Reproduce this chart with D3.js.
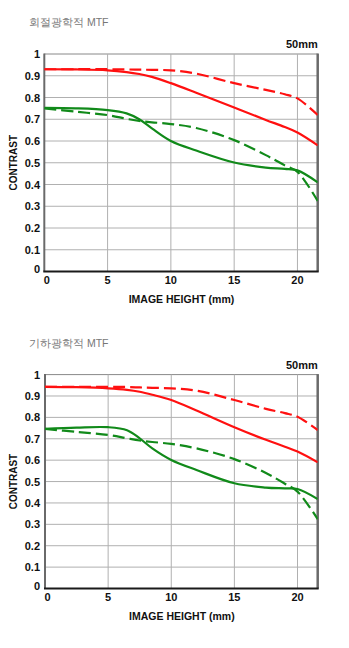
<!DOCTYPE html>
<html>
<head>
<meta charset="utf-8">
<script src="https://cdn.jsdelivr.net/npm/d3@7"></script>
<style>
  html, body { margin: 0; padding: 0; background: #fff; }
  svg { display: block; }
  text { font-family: "Liberation Sans", Arial, sans-serif; }
</style>
</head>
<body>
<script>
// Image height sample positions (mm)
const heights = [0, 2.5, 5, 6.5, 7.5, 8.5, 10, 12, 15, 17.5, 19, 20, 21.6];
const xTicks = [0, 5, 10, 15, 20];
const yTicks = [0, 0.1, 0.2, 0.3, 0.4, 0.5, 0.6, 0.7, 0.8, 0.9, 1];
const yTickLabels = ["0", "0.1", "0.2", "0.3", "0.4", "0.5", "0.6", "0.7", "0.8", "0.9", "1"];
const titles = ["회절광학적 MTF", "기하광학적 MTF"];
const focalLabel = "50mm";

// Diffraction MTF
const diffRedSolid   = [0.930, 0.929, 0.925, 0.917, 0.908, 0.895, 0.866, 0.822, 0.754, 0.697, 0.664, 0.639, 0.580];
const diffRedDash    = [0.930, 0.930, 0.930, 0.929, 0.928, 0.927, 0.925, 0.910, 0.866, 0.835, 0.815, 0.796, 0.720];
const diffGreenSolid = [0.752, 0.750, 0.742, 0.727, 0.700, 0.658, 0.600, 0.556, 0.501, 0.478, 0.472, 0.465, 0.410];
const diffGreenDash  = [0.750, 0.735, 0.719, 0.702, 0.692, 0.686, 0.678, 0.660, 0.604, 0.535, 0.488, 0.458, 0.324];

// Geometric MTF
const geoRedSolid   = [0.943, 0.941, 0.936, 0.929, 0.920, 0.906, 0.881, 0.832, 0.754, 0.695, 0.663, 0.640, 0.590];
const geoRedDash    = [0.943, 0.943, 0.943, 0.942, 0.940, 0.938, 0.936, 0.925, 0.881, 0.840, 0.820, 0.803, 0.741];
const geoGreenSolid = [0.746, 0.752, 0.754, 0.740, 0.702, 0.655, 0.601, 0.554, 0.492, 0.472, 0.468, 0.465, 0.418];
const geoGreenDash  = [0.746, 0.732, 0.718, 0.702, 0.692, 0.685, 0.676, 0.655, 0.605, 0.540, 0.490, 0.453, 0.324];

const panels = [
  { title: titles[0], top: 54, bottom: 271.5, left: 44.3, right: 317.7,
    series: [
      { v: diffRedSolid, color: "#ff1010", dash: null },
      { v: diffRedDash, color: "#ff1010", dash: "12,5" },
      { v: diffGreenSolid, color: "#118a1a", dash: null },
      { v: diffGreenDash, color: "#118a1a", dash: "12,5" }
    ] },
  { title: titles[1], top: 374.6, bottom: 588.5, left: 45, right: 317.7,
    series: [
      { v: geoRedSolid, color: "#ff1010", dash: null },
      { v: geoRedDash, color: "#ff1010", dash: "12,5" },
      { v: geoGreenSolid, color: "#118a1a", dash: null },
      { v: geoGreenDash, color: "#118a1a", dash: "12,5" }
    ] }
];

const svg = d3.select("body").append("svg").attr("width", 349).attr("height", 648);

panels.forEach(p => {
  const g = svg.append("g");
  const x = d3.scaleLinear().domain([0, 21.6]).range([p.left, p.right]);
  const y = d3.scaleLinear().domain([0, 1]).range([p.bottom, p.top]);

  // Title
  g.append("text").attr("x", 29).attr("y", p.top - 28)
    .attr("font-size", 10.5).attr("fill", "#777")
    .attr("font-family", "'Noto Sans CJK KR', sans-serif")
    .text(p.title);

  g.append("text").attr("x", p.right).attr("y", p.top - 6)
    .attr("text-anchor", "end").attr("font-size", 11).attr("font-weight", "bold")
    .attr("fill", "#111").text(focalLabel);

  // Grid
  g.append("g").selectAll("line.h").data(yTicks.filter(d => d > 0)).join("line")
    .attr("x1", p.left).attr("x2", p.right)
    .attr("y1", d => y(d)).attr("y2", d => y(d))
    .attr("stroke", d => d === 1 ? "#888" : "#b0b0b0").attr("stroke-width", 1);
  g.append("g").selectAll("line.v").data(xTicks.filter(d => d > 0)).join("line")
    .attr("x1", d => x(d)).attr("x2", d => x(d))
    .attr("y1", p.top).attr("y2", p.bottom)
    .attr("stroke", "#b0b0b0").attr("stroke-width", 1);

  // Frame: right edge, left axis, baseline
  g.append("line").attr("x1", p.right).attr("x2", p.right).attr("y1", p.top - 0.5).attr("y2", p.bottom)
    .attr("stroke", "#6a6a6a").attr("stroke-width", 2.5);
  g.append("line").attr("x1", p.left).attr("x2", p.left).attr("y1", p.top - 0.5).attr("y2", p.bottom)
    .attr("stroke", "#6a6a6a").attr("stroke-width", 2);
  g.append("line").attr("x1", p.left - 1).attr("x2", p.right + 1).attr("y1", p.bottom).attr("y2", p.bottom)
    .attr("stroke", "#1a1a1a").attr("stroke-width", 2);

  // Y tick labels
  g.append("g").selectAll("text").data(yTicks).join("text")
    .attr("x", 40).attr("y", d => y(d) + (d === 0 ? 1 : 4))
    .attr("text-anchor", "end").attr("font-size", 11).attr("font-weight", "bold")
    .attr("fill", "#111").text((d, i) => yTickLabels[i]);

  // X tick labels
  g.append("g").selectAll("text").data(xTicks).join("text")
    .attr("x", d => x(d) + (d === 0 ? 2.5 : 0)).attr("y", p.bottom + 12)
    .attr("text-anchor", "middle").attr("font-size", 11).attr("font-weight", "bold")
    .attr("fill", "#111").text(d => d);

  // Axis titles
  g.append("text").attr("x", (p.left + p.right) / 2 + 0.5).attr("y", p.bottom + 31)
    .attr("text-anchor", "middle").attr("font-size", 10.5).attr("font-weight", "bold")
    .attr("fill", "#111").text("IMAGE HEIGHT (mm)");
  g.append("text")
    .attr("transform", `translate(17,${(p.top + p.bottom) / 2}) rotate(-90)`)
    .attr("text-anchor", "middle").attr("font-size", 10).attr("font-weight", "bold")
    .attr("fill", "#111").text("CONTRAST");

  // MTF curves
  const line = d3.line().x((d, i) => x(heights[i])).y(d => y(d)).curve(d3.curveCatmullRom.alpha(0.5));
  const clipId = "clip" + Math.round(p.top);
  g.append("clipPath").attr("id", clipId).append("rect")
    .attr("x", p.left).attr("y", p.top - 5).attr("width", p.right - p.left).attr("height", p.bottom - p.top + 5);
  const cg = g.append("g").attr("clip-path", `url(#${clipId})`);
  p.series.forEach(s => {
    cg.append("path").attr("d", line(s.v))
      .attr("fill", "none").attr("stroke", s.color).attr("stroke-width", 2.2)
      .attr("stroke-dasharray", s.dash);
  });
});
</script>
</body>
</html>
